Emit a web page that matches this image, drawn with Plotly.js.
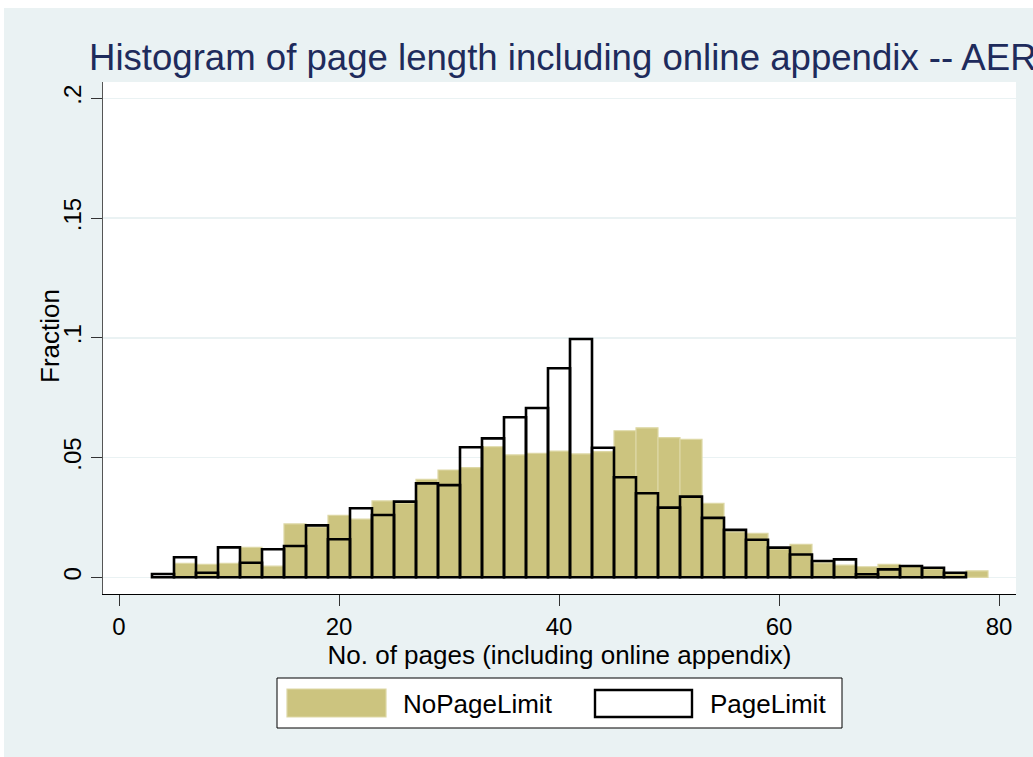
<!DOCTYPE html>
<html>
<head>
<meta charset="utf-8">
<script src="https://cdn.plot.ly/plotly-3.0.1.min.js"></script>
<style>
  html, body { margin: 0; padding: 0; background: #ffffff; width: 1033px; height: 757px; overflow: hidden; }
  #chart { position: absolute; left: 4px; top: 8px; width: 1029px; height: 749px; }
</style>
</head>
<body>
<div id="chart"></div>
<script>
// ---- data (fraction per 2-page bin; bin left edges) ----
const noLimitBinStart = [5,7,9,11,13,15,17,19,21,23,25,27,29,31,33,35,37,39,41,43,45,47,49,51,53,55,57,59,61,63,65,67,69,71,73,75,77];
const noLimitFraction = [0.0058,0.0054,0.0058,0.0125,0.0047,0.0223,0.0210,0.0259,0.0243,0.0319,0.0310,0.0409,0.0448,0.0458,0.0545,0.0511,0.0518,0.0527,0.0515,0.0525,0.0612,0.0624,0.0583,0.0576,0.0309,0.0190,0.0183,0.0118,0.0138,0.0060,0.0051,0.0044,0.0054,0.0045,0.0035,0.0015,0.0027];
const limitBinStart = [3,5,7,9,11,13,15,17,19,21,23,25,27,29,31,33,35,37,39,41,43,45,47,49,51,53,55,57,59,61,63,65,67,69,71,73,75];
const limitFraction = [0.0014,0.0084,0.0019,0.0125,0.0061,0.0117,0.0131,0.0217,0.0159,0.0288,0.0260,0.0316,0.0392,0.0385,0.0543,0.0580,0.0668,0.0707,0.0873,0.0995,0.0541,0.0418,0.0351,0.0291,0.0337,0.0248,0.0198,0.0157,0.0124,0.0095,0.0068,0.0075,0.0013,0.0033,0.0047,0.0040,0.0019];
const binWidth = 2;
const xTickVals = [0,20,40,60,80];
const xTickText = ['0','20','40','60','80'];
const yTickVals = [0,0.05,0.1,0.15,0.2];
const yTickText = ['0','.05','.1','.15','.2'];
const seriesNames = ['NoPageLimit','PageLimit'];

// ---- styles ----
const GOLD = 'rgb(204,196,127)';
const GOLD_EDGE = 'rgb(221,216,165)';
const BG = '#EAF2F3';
const FONT = '"Liberation Sans", Arial, Helvetica, sans-serif';

const centers = a => a.map(v => v + binWidth / 2);

const traces = [
  {
    type: 'bar', name: seriesNames[0],
    x: centers(noLimitBinStart), y: noLimitFraction, width: binWidth,
    marker: { color: GOLD, line: { color: GOLD_EDGE, width: 1.2 } },
    showlegend: false, hoverinfo: 'x+y'
  },
  {
    type: 'bar', name: seriesNames[1],
    x: centers(limitBinStart), y: limitFraction, width: binWidth,
    marker: { color: 'rgba(0,0,0,0)', line: { color: '#000000', width: 2.6 } },
    showlegend: false, hoverinfo: 'x+y'
  }
];

// plot-area pixel frame (page coords) used for the hand-made legend
const PL = 103, PR = 1016, PT = 82, PB = 594;
const px = x => (x - PL) / (PR - PL);
const py = y => (PB - y) / (PB - PT);

const shapes = [
  { type: 'rect', xref: 'paper', yref: 'paper', x0: px(277), x1: px(842), y0: py(728), y1: py(678),
    fillcolor: '#ffffff', line: { color: '#000000', width: 1 } },
  { type: 'rect', xref: 'paper', yref: 'paper', x0: px(287), x1: px(386), y0: py(717), y1: py(689),
    fillcolor: GOLD, line: { color: GOLD_EDGE, width: 1.2 } },
  { type: 'rect', xref: 'paper', yref: 'paper', x0: px(595), x1: px(692), y0: py(717), y1: py(690),
    fillcolor: '#ffffff', line: { color: '#000000', width: 2.4 } }
];

const annotations = [
  { xref: 'paper', yref: 'paper', x: px(401), y: py(704), xanchor: 'left', yanchor: 'middle',
    text: seriesNames[0], showarrow: false, font: { family: FONT, size: 26, color: '#000' } },
  { xref: 'paper', yref: 'paper', x: px(708), y: py(704), xanchor: 'left', yanchor: 'middle',
    text: seriesNames[1], showarrow: false, font: { family: FONT, size: 26, color: '#000' } },
  // y-axis title placed precisely
  { xref: 'paper', yref: 'paper', x: px(50), y: py(336), xanchor: 'center', yanchor: 'middle',
    text: 'Fraction', textangle: -90, showarrow: false, font: { family: FONT, size: 26, color: '#000' } }
];

const layout = {
  width: 1029, height: 749,
  margin: { l: PL - 4, r: 1033 - PR, t: PT - 8, b: 757 - PB, pad: 0 },
  paper_bgcolor: BG, plot_bgcolor: '#ffffff',
  barmode: 'overlay',
  font: { family: FONT, color: '#000' },
  title: {
    text: 'Histogram of page length including online appendix -- AER',
    xref: 'container', yref: 'container',
    x: (89 - 4) / 1029, xanchor: 'left',
    y: 1 - (57 - 8) / 749, yanchor: 'middle',
    font: { family: FONT, size: 36.6, color: '#1E2B5C' }
  },
  xaxis: {
    range: [(PL - 119) / 11, (PR - 119) / 11],
    tickvals: xTickVals, ticktext: xTickText,
    ticks: 'outside', ticklen: 11, tickwidth: 1, tickcolor: '#333',
    showline: true, linecolor: '#000', linewidth: 1.2, mirror: false,
    showgrid: false, zeroline: false,
    tickfont: { family: FONT, size: 24, color: '#000' },
    title: { text: 'No. of pages (including online appendix)', standoff: 0,
             font: { family: FONT, size: 26, color: '#000' } },
    automargin: false, fixedrange: true
  },
  yaxis: {
    range: [-(PB - 577.3) / 2395, (577.3 - PT) / 2395],
    tickvals: yTickVals, ticktext: yTickText, tickangle: -90,
    ticks: 'outside', ticklen: 11, tickwidth: 1, tickcolor: '#333',
    showline: true, linecolor: '#555', linewidth: 1.2, mirror: false,
    showgrid: true, gridcolor: BG, gridwidth: 1.5, zeroline: false,
    tickfont: { family: FONT, size: 24, color: '#000' },
    automargin: false, fixedrange: true
  },
  shapes: shapes,
  annotations: annotations,
  showlegend: false
};

Plotly.newPlot('chart', traces, layout, { displayModeBar: false, staticPlot: true });
</script>
</body>
</html>
